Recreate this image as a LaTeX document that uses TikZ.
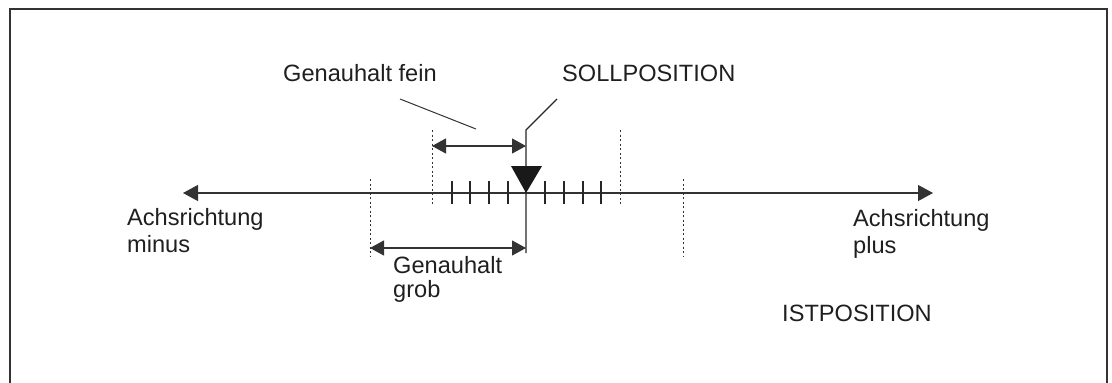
\documentclass[tikz,border=0pt]{standalone}
\usepackage{fontspec}
\setmainfont{Liberation Sans}
\usetikzlibrary{arrows.meta}
\begin{document}
\begin{tikzpicture}[x=1pt,y=-1pt,
  lbl/.style={inner sep=0pt,anchor=base west,align=left,font=\fontsize{23.6}{27}\selectfont,text=black!88},
  axisline/.style={line width=1.2pt,black!80},
  dimarrow/.style={line width=1.2pt,black!80,{Triangle[length=14pt,width=15pt]}-{Triangle[length=14pt,width=15pt]}},
  dotline/.style={line width=1pt,black!80,dash pattern=on 2pt off 2.5pt},
  tickline/.style={line width=1.2pt,black!85},
  leader/.style={line width=1pt,black!80}]
\useasboundingbox (0,0) rectangle (1112,383);
% frame
\draw[line width=2pt,black!80] (10,383) -- (10,9) -- (1107,9) -- (1107,383);
% coordinates
\coordinate (axL) at (183,193);
\coordinate (axR) at (933,193);
\coordinate (sollTop) at (526,130);
\coordinate (sollBot) at (526,253);
\coordinate (sollKnee) at (557,99);
\coordinate (dL1top) at (370,179); \coordinate (dL1bot) at (370,256);
\coordinate (dL2top) at (432,130); \coordinate (dL2bot) at (432,206);
\coordinate (dR2top) at (620,130); \coordinate (dR2bot) at (620,206);
\coordinate (dR1top) at (683,179); \coordinate (dR1bot) at (683,256);
\coordinate (fineL) at (432,146); \coordinate (fineR) at (526,146);
\coordinate (grobL) at (370,248); \coordinate (grobR) at (526,248);
\coordinate (feinA) at (400,99); \coordinate (feinB) at (476,129);
% axis
\draw[axisline,{Triangle[length=15pt,width=16pt]}-{Triangle[length=15pt,width=16pt]}] (axL) -- (axR);
% dotted limits
\draw[dotline] (dL1top) -- (dL1bot);
\draw[dotline] (dL2top) -- (dL2bot);
\draw[dotline] (dR2top) -- (dR2bot);
\draw[dotline] (dR1top) -- (dR1bot);
% ticks
\foreach \x in {452,470,489,508,545,564,583,601}
  \draw[tickline] (\x,181) -- (\x,204);
% soll line
\draw[line width=1.4pt,black!85] (sollBot) -- (sollTop) -- (sollKnee);
% marker triangle
\fill[black!90] (511,166) -- (542,166) -- (526,193) -- cycle;
% dimension arrows
\draw[dimarrow] (fineL) -- (fineR);
\draw[dimarrow] (grobL) -- (grobR);
% leader for fein
\draw[leader] (feinA) -- (feinB);
% labels
\node[lbl] (fein) at (283,81) {Genauhalt fein};
\node[lbl] (soll) at (562,81) {SOLLPOSITION};
\node[lbl] (minus) at (127,252) {Achsrichtung\\minus};
\node[lbl] (plus) at (853,253) {Achsrichtung\\plus};
\node[lbl] (grob) at (393,297) {Genauhalt\\[-3pt]grob};
\node[lbl] (ist) at (782,321) {ISTPOSITION};
\end{tikzpicture}
\end{document}
